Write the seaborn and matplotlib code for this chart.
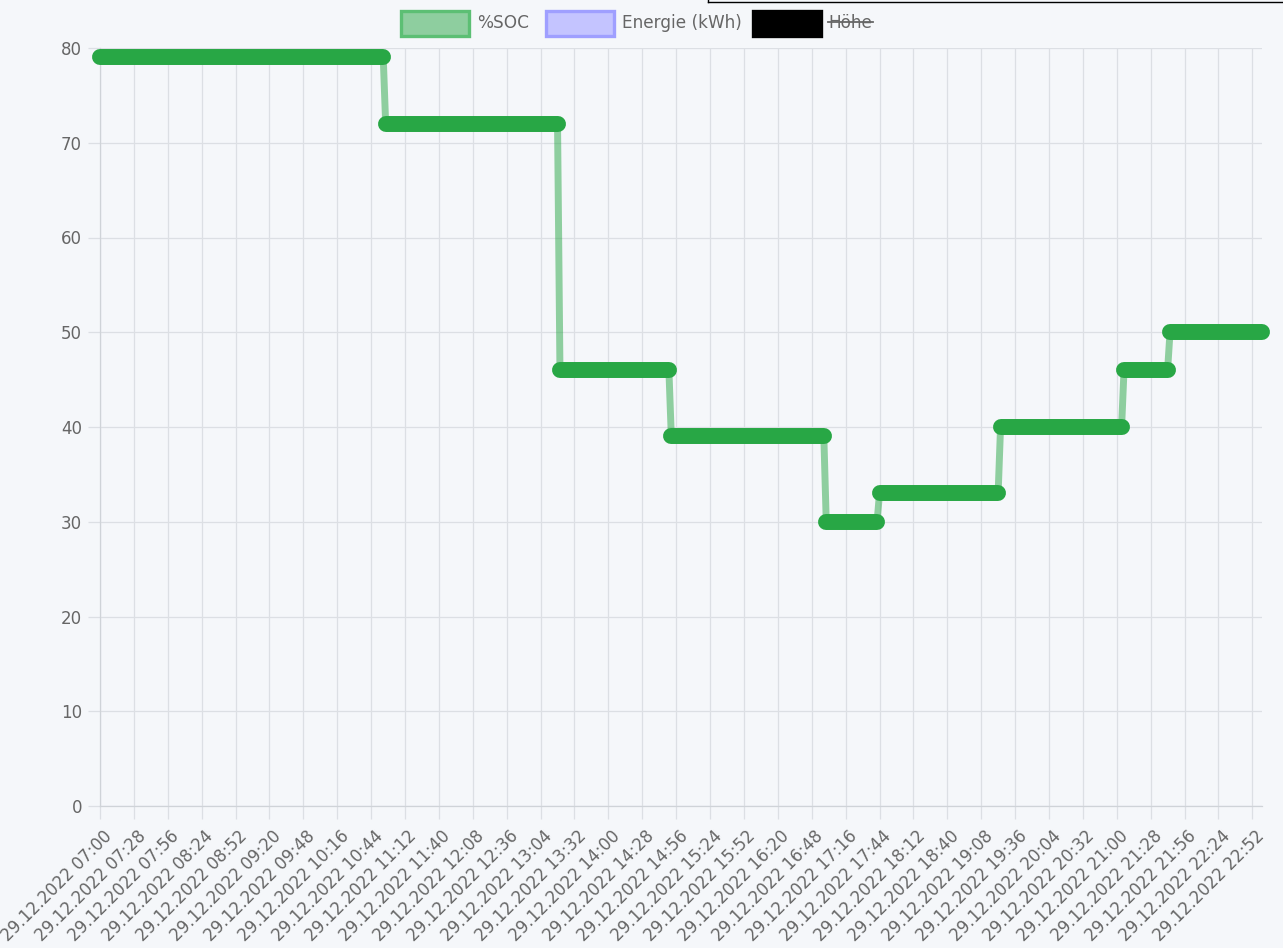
import matplotlib
matplotlib.use("Agg")
import matplotlib.pyplot as plt
import matplotlib.transforms as mtransforms
from matplotlib.patches import Rectangle
from matplotlib.lines import Line2D
import seaborn as sns
import pandas as pd

# SOC plateaus (29.12.2022)
step_start = ["07:00", "10:56", "13:20", "14:52", "17:00", "17:44", "19:24", "21:06", "21:44"]
step_end = ["10:54", "13:18", "14:50", "16:58", "17:42", "19:22", "21:04", "21:42", "23:00"]
soc = [79, 72, 46, 39, 30, 33, 40, 46, 50]

legend_labels = ["%SOC", "Energie (kWh)", "Höhe"]

W, H = 1283, 948
bg = "#f5f7fa"
grid_col = "#dcdfe4"
text_col = "#666666"
green = "#28a745"


def to_min(t):
    h, m = t.split(":")
    return (int(h) - 7) * 60 + int(m)


rows = []
for i, (a, b, v) in enumerate(zip(step_start, step_end, soc)):
    rows.append({"plateau": i, "minute": to_min(a), "soc": v})
    rows.append({"plateau": i, "minute": to_min(b), "soc": v})
df = pd.DataFrame(rows)

tick_times = pd.date_range("2022-12-29 07:00", "2022-12-29 22:52", freq="28min")
tick_pos = [(t.hour - 7) * 60 + t.minute for t in tick_times]
tick_labels = [t.strftime("%d.%m.%Y %H:%M") for t in tick_times]

fig = plt.figure(figsize=(W / 100, H / 100), dpi=100, facecolor=bg)
ax = fig.add_axes([100 / W, (H - 806) / H, 1162 / W, 758 / H])
ax.set_facecolor(bg)

# thin connecting line
sns.lineplot(data=df, x="minute", y="soc", sort=False, estimator=None,
             color=green, alpha=0.5, lw=5, ax=ax, legend=False, zorder=3)
# thick plateaus (dense points in the original)
sns.lineplot(data=df, x="minute", y="soc", units="plateau", estimator=None,
             color=green, lw=11.5, solid_capstyle="round", ax=ax,
             legend=False, zorder=4, clip_on=False)

ax.set_xlim(0, 960)
ax.set_ylim(0, 80)
ax.set_yticks(range(0, 81, 10))
ax.set_xticks(tick_pos)

ax.set_xlabel("")
ax.set_ylabel("")
ax.grid(True, color=grid_col, lw=0.9)
ax.set_axisbelow(True)
ax.tick_params(axis="both", colors=grid_col, labelcolor=text_col, length=9, width=0.9)
ax.tick_params(axis="y", labelsize=12, pad=4)
ax.tick_params(axis="x", labelsize=12, pad=11)
for s in ["top", "right"]:
    ax.spines[s].set_visible(False)
for s in ["left", "bottom"]:
    ax.spines[s].set_color("#cfd3d8")
    ax.spines[s].set_linewidth(0.9)

ax.set_xticklabels(tick_labels, rotation=45, ha="right", va="center",
                   rotation_mode="anchor")
offset = mtransforms.ScaledTranslation(9 / 100, 0, fig.dpi_scale_trans)
for lbl in ax.get_xticklabels():
    lbl.set_transform(lbl.get_transform() + offset)

# legend drawn like the chart.js header
def px(x, y):
    return x / W, 1 - y / H

boxes = [(401, green, 0.5, "#5cbf74"), (546, "#c4c4ff", 1.0, "#9f9fff"), (753, "black", 1.0, "black")]
text_x = [477, 622, 828]
for (bx, fc, al, ec), tx, lab in zip(boxes, text_x, legend_labels):
    x0, y0 = px(bx, 36)
    fig.add_artist(Rectangle((x0, y0), 68 / W, 25 / H, transform=fig.transFigure,
                             facecolor=fc, alpha=al, edgecolor="none"))
    fig.add_artist(Rectangle((x0, y0), 68 / W, 25 / H, transform=fig.transFigure,
                             facecolor="none", edgecolor=ec, lw=2.4))
    fig.text(*px(tx, 23), lab, color=text_col, fontsize=12.2, ha="left", va="center")
fig.add_artist(Line2D([828 / W, 873 / W], [1 - 22 / H, 1 - 22 / H],
                      transform=fig.transFigure, color=text_col, lw=1.3))

# frame edge from the screenshot at the top right
fig.add_artist(Line2D([708 / W, 1], [1 - 1.5 / H, 1 - 1.5 / H], transform=fig.transFigure, color="black", lw=1))
fig.add_artist(Line2D([708 / W, 708 / W], [1, 1 - 1.5 / H], transform=fig.transFigure, color="black", lw=1))

fig.savefig("out.png", dpi=100, facecolor=bg)
